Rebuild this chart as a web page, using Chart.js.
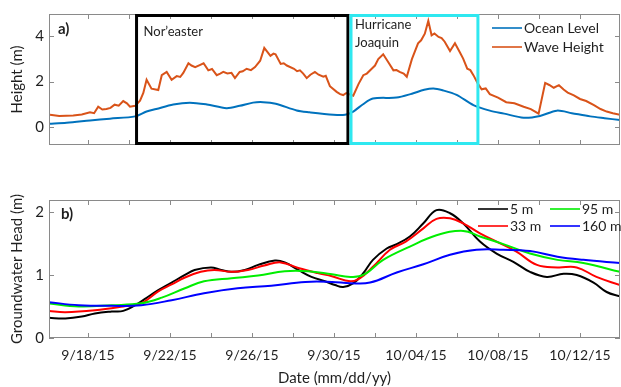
<!DOCTYPE html>
<html>
<head>
<meta charset="utf-8">
<script src="https://cdn.jsdelivr.net/npm/chart.js@4.4.1/dist/chart.umd.min.js"></script>
<style>
    html, body { margin: 0; padding: 0; background: #fff; }
    #wrap { position: relative; width: 621px; height: 387px; }
    #top { position: absolute; left: 0; top: 0; }
    #bottom { position: absolute; left: 0; top: 180px; }
</style>
</head>
<body>
<div id="wrap">
    <canvas id="top" width="621" height="160" style="width:621px;height:160px"></canvas>
    <canvas id="bottom" width="621" height="207" style="width:621px;height:207px"></canvas>
</div>
<script>
// days counted from 1 Sept 2015 (Oct 1 = 31)
const tickDays = [18, 20, 22, 24, 26, 28, 30, 32, 34, 36, 38, 40, 42];
const labelDays = [18, 22, 26, 30, 34, 38, 42];
const labelText = ["9/18/15", "9/22/15", "9/26/15", "9/30/15", "10/04/15", "10/08/15", "10/12/15"];

// panel a) ocean level
const oceanDays = [16.1, 16.96, 18.1, 19.07, 20.3, 20.86, 21.33, 22.16, 22.97, 23.8, 24.76, 25.4, 26.05, 26.55, 27.16, 28.18, 28.8, 29.97, 30.54, 30.94, 31.4, 31.9, 33.05, 33.8, 34.4, 34.85, 35.3, 35.98, 36.8, 37.6, 38.3, 39.25, 40.05, 40.87, 41.6, 42.5, 43.2, 43.95];
const oceanLevel = [0.16, 0.2, 0.3, 0.38, 0.48, 0.69, 0.8, 1.0, 1.08, 1.0, 0.84, 0.94, 1.08, 1.1, 1.03, 0.74, 0.66, 0.55, 0.55, 0.69, 1.0, 1.26, 1.3, 1.47, 1.64, 1.7, 1.62, 1.42, 0.97, 0.73, 0.6, 0.42, 0.5, 0.73, 0.62, 0.48, 0.4, 0.32];

// panel a) wave height
const waveDays = [16.15, 16.6, 17.28, 17.7, 18.1, 18.3, 18.5, 18.7, 18.9, 19.1, 19.3, 19.5, 19.72, 19.9, 20.05, 20.3, 20.54, 20.7, 20.86, 21.1, 21.43, 21.6, 21.84, 22.08, 22.33, 22.5, 22.65, 22.9, 23.05, 23.23, 23.45, 23.64, 23.87, 24.05, 24.28, 24.45, 24.6, 24.8, 25.0, 25.17, 25.4, 25.55, 25.74, 25.95, 26.15, 26.4, 26.6, 26.75, 26.9, 27.05, 27.15, 27.4, 27.55, 27.7, 28.05, 28.2, 28.34, 28.5, 28.67, 28.85, 29.07, 29.25, 29.48, 29.6, 29.8, 30.13, 30.3, 30.45, 30.6, 30.94, 31.2, 31.43, 31.6, 31.84, 32.0, 32.16, 32.4, 32.65, 32.9, 33.05, 33.2, 33.4, 33.55, 33.8, 34.1, 34.25, 34.43, 34.6, 34.76, 34.9, 35.1, 35.25, 35.4, 35.66, 35.9, 36.15, 36.3, 36.5, 36.65, 36.8, 37.0, 37.2, 37.4, 37.6, 38.0, 38.4, 38.8, 39.25, 39.6, 39.98, 40.3, 40.5, 40.72, 40.97, 41.2, 41.4, 41.7, 42.0, 42.3, 42.68, 43.0, 43.3, 43.6, 43.95];
const waveHeight = [0.55, 0.5, 0.52, 0.56, 0.66, 0.62, 0.9, 0.78, 0.8, 0.85, 0.99, 0.95, 1.15, 1.05, 0.9, 0.94, 1.17, 1.5, 2.08, 1.69, 1.63, 2.28, 2.42, 2.08, 2.24, 2.2, 2.38, 2.8, 2.7, 2.63, 2.72, 2.8, 2.49, 2.55, 2.28, 2.35, 2.42, 2.35, 2.38, 2.15, 2.42, 2.45, 2.56, 2.5, 2.63, 2.91, 3.47, 3.3, 3.12, 3.22, 3.19, 2.77, 2.8, 2.7, 2.56, 2.45, 2.49, 2.35, 2.15, 2.3, 2.42, 2.3, 2.21, 2.25, 1.8, 1.55, 1.45, 1.41, 1.5, 1.38, 1.9, 2.28, 2.35, 2.56, 2.7, 2.98, 3.19, 2.84, 2.49, 2.5, 2.42, 2.35, 2.21, 2.98, 3.67, 3.8, 4.09, 4.65, 4.02, 4.1, 3.95, 3.9, 3.74, 3.33, 3.67, 3.26, 3.0, 2.56, 2.5, 2.28, 1.94, 1.66, 1.7, 1.45, 1.3, 1.1, 1.05, 0.9, 0.8, 0.6, 1.94, 1.85, 1.73, 1.84, 1.65, 1.52, 1.4, 1.24, 1.15, 0.97, 0.8, 0.69, 0.62, 0.55];

// storm windows (day start, day end)
const stormNames = ["Nor\u2019easter", "Hurricane Joaquin"];
const stormStart = [20.37, 30.83];
const stormEnd = [30.68, 37.02];

// panel b) groundwater head at distance from shore
const gwDays5 = [16.06, 16.9, 17.7, 18.34, 19.16, 19.72, 20.3, 20.78, 21.43, 22.08, 22.73, 23.2, 24.0, 24.5, 25.0, 25.65, 26.3, 27.12, 27.6, 28.26, 28.9, 29.56, 30.05, 30.45, 30.95, 31.43, 31.9, 32.57, 33.06, 33.7, 34.36, 35.0, 35.66, 36.3, 37.12, 37.93, 38.75, 39.56, 40.38, 41.2, 41.84, 42.66, 43.3, 43.95];
const gw5 = [0.32, 0.31, 0.34, 0.39, 0.42, 0.43, 0.52, 0.62, 0.76, 0.88, 1.0, 1.08, 1.12, 1.08, 1.05, 1.08, 1.16, 1.23, 1.2, 1.08, 0.97, 0.9, 0.84, 0.81, 0.87, 1.03, 1.24, 1.42, 1.49, 1.61, 1.82, 2.03, 1.98, 1.82, 1.53, 1.34, 1.21, 1.05, 0.97, 1.02, 1.0, 0.88, 0.73, 0.66];

const gwDays33 = [16.06, 16.9, 18.34, 19.72, 20.6, 21.43, 22.08, 22.73, 23.5, 24.16, 25.0, 25.8, 26.6, 27.4, 28.26, 29.2, 29.9, 30.8, 31.27, 31.9, 32.73, 33.5, 34.36, 35.0, 35.66, 36.3, 37.12, 37.93, 38.9, 39.9, 40.9, 41.84, 42.8, 43.95];
const gw33 = [0.43, 0.41, 0.44, 0.5, 0.55, 0.74, 0.85, 0.96, 1.05, 1.08, 1.05, 1.08, 1.15, 1.2, 1.11, 1.03, 0.98, 0.9, 0.95, 1.13, 1.4, 1.53, 1.74, 1.89, 1.9, 1.82, 1.66, 1.53, 1.37, 1.16, 1.12, 1.12, 0.97, 0.84];

const gwDays95 = [16.06, 17.55, 19.16, 20.6, 21.6, 22.73, 23.66, 25.0, 26.3, 27.6, 28.74, 29.9, 30.8, 31.43, 32.4, 33.7, 35.0, 36.3, 37.12, 38.26, 39.56, 40.9, 42.16, 43.95];
const gw95 = [0.55, 0.5, 0.52, 0.55, 0.64, 0.79, 0.9, 0.95, 0.99, 1.06, 1.06, 1.01, 0.97, 1.0, 1.24, 1.45, 1.63, 1.7, 1.61, 1.49, 1.34, 1.24, 1.19, 1.05];

const gwDays160 = [16.06, 17.55, 19.16, 20.6, 22.08, 23.66, 25.3, 26.94, 28.6, 29.9, 30.8, 31.76, 33.06, 34.36, 35.66, 36.95, 38.26, 39.56, 40.9, 42.16, 43.95];
const gw160 = [0.57, 0.52, 0.51, 0.52, 0.6, 0.71, 0.79, 0.83, 0.89, 0.89, 0.87, 0.88, 1.04, 1.17, 1.32, 1.4, 1.4, 1.38, 1.29, 1.24, 1.19];

const seriesNames = ["5 m", "33 m", "95 m", "160 m"];
const seriesColors = ["#000000", "#ff0000", "#00ee00", "#0000ff"];

const FONT = "Lato";
const TEXT = "#1f1f1f";
const FRAME = "#8a8a8a";

function toPoints(days, vals) {
    return days.map((d, i) => ({ x: d, y: vals[i] }));
}

// MATLAB-like box with inward ticks
const frameTicks = {
    id: "frameTicks",
    afterDatasetsDraw(chart) {
        const { ctx, chartArea: a, scales } = chart;
        ctx.save();
        ctx.strokeStyle = FRAME;
        ctx.lineWidth = 1;
        ctx.strokeRect(a.left + 0.5, a.top + 0.5, a.width - 1, a.height - 1);
        ctx.beginPath();
        scales.x.ticks.forEach(t => {
            const px = Math.round(scales.x.getPixelForValue(t.value)) + 0.5;
            ctx.moveTo(px, a.bottom); ctx.lineTo(px, a.bottom - 5);
            ctx.moveTo(px, a.top); ctx.lineTo(px, a.top + 5);
        });
        scales.y.ticks.forEach(t => {
            const py = Math.round(scales.y.getPixelForValue(t.value)) + 0.5;
            ctx.moveTo(a.left, py); ctx.lineTo(a.left + 5, py);
            ctx.moveTo(a.right, py); ctx.lineTo(a.right - 5, py);
        });
        ctx.stroke();
        ctx.restore();
    }
};

const topDecor = {
    id: "topDecor",
    afterDatasetsDraw(chart) {
        const { ctx, chartArea: a, scales: { x } } = chart;
        ctx.save();
        const boxColors = ["#000000", "#2fe8f0"];
        stormStart.forEach((s, i) => {
            const x1 = x.getPixelForValue(s);
            const x2 = x.getPixelForValue(stormEnd[i]);
            ctx.strokeStyle = boxColors[i];
            ctx.lineWidth = 3;
            ctx.strokeRect(x1, a.top + 1.5, x2 - x1, a.height - 3);
        });
        ctx.fillStyle = TEXT;
        ctx.textBaseline = "middle";
        ctx.font = "bold 15px " + FONT;
        ctx.fillText("a)", a.left + 9, a.top + 15);
        ctx.font = "13px " + FONT;
        ctx.fillText(stormNames[0], x.getPixelForValue(stormStart[0]) + 7, a.top + 18);
        const hx = x.getPixelForValue(stormStart[1]) + 4;
        const words = stormNames[1].split(" ");
        ctx.fillText(words[0], hx, a.top + 11);
        ctx.fillText(words[1], hx, a.top + 29);
        // legend
        ctx.font = "14px " + FONT;
        chart.data.datasets.forEach((ds, i) => {
            const ly = a.top + 14 + i * 19;
            ctx.strokeStyle = ds.borderColor;
            ctx.lineWidth = 1.6;
            ctx.beginPath();
            ctx.moveTo(a.right - 128, ly); ctx.lineTo(a.right - 98, ly);
            ctx.stroke();
            ctx.fillText(ds.label, a.right - 96, ly);
        });
        ctx.restore();
    }
};

const bottomDecor = {
    id: "bottomDecor",
    afterDatasetsDraw(chart) {
        const { ctx, chartArea: a } = chart;
        ctx.save();
        ctx.fillStyle = TEXT;
        ctx.textBaseline = "middle";
        ctx.font = "bold 15px " + FONT;
        ctx.fillText("b)", a.left + 12, a.top + 14);
        ctx.font = "14px " + FONT;
        const cols = [a.right - 142, a.right - 70];
        seriesNames.forEach((name, i) => {
            const cx = cols[Math.floor(i / 2)];
            const ly = a.top + 9 + (i % 2) * 17;
            ctx.strokeStyle = seriesColors[i];
            ctx.lineWidth = 1.6;
            ctx.beginPath();
            ctx.moveTo(cx, ly); ctx.lineTo(cx + 30, ly);
            ctx.stroke();
            ctx.fillText(name, cx + 32, ly);
        });
        ctx.restore();
    }
};

function xScale(showLabels, height, withTitle) {
    return {
        type: "linear",
        min: 16.1,
        max: 43.95,
        afterBuildTicks: s => { s.ticks = tickDays.map(v => ({ value: v })); },
        afterFit: s => { s.height = height; },
        grid: { display: false, drawTicks: false },
        border: { display: false },
        ticks: {
            display: showLabels,
            autoSkip: false,
            maxRotation: 0,
            padding: 9,
            color: TEXT,
            font: { family: FONT, size: 14 },
            callback: v => {
                const k = labelDays.indexOf(v);
                return k >= 0 ? labelText[k] : "";
            }
        },
        title: {
            display: withTitle,
            text: "Date (mm/dd/yy)",
            color: TEXT,
            font: { family: FONT, size: 15 },
            padding: { top: 0, bottom: 0 }
        }
    };
}

function yScale(min, max, ticks, title) {
    return {
        min: min,
        max: max,
        afterBuildTicks: s => { s.ticks = ticks.map(v => ({ value: v })); },
        afterFit: s => { s.width = 49; },
        grid: { display: false, drawTicks: false },
        border: { display: false },
        ticks: { padding: 5, color: TEXT, font: { family: FONT, size: 15 } },
        title: {
            display: true,
            text: title,
            color: TEXT,
            font: { family: FONT, size: 15 },
            padding: { top: 8, bottom: 0 }
        }
    };
}

new Chart(document.getElementById("top"), {
    type: "line",
    data: {
        datasets: [
            { label: "Ocean Level", data: toPoints(oceanDays, oceanLevel), borderColor: "#0072bd", borderWidth: 2, tension: 0.3 },
            { label: "Wave Height", data: toPoints(waveDays, waveHeight), borderColor: "#d95319", borderWidth: 2 }
        ]
    },
    options: {
        responsive: false,
        animation: false,
        events: [],
        elements: { point: { radius: 0 } },
        layout: { padding: { top: 8, right: 1, left: 0, bottom: 0 } },
        plugins: { legend: { display: false }, tooltip: { enabled: false } },
        scales: {
            x: xScale(false, 15, false),
            y: yScale(-0.77, 4.95, [0, 2, 4], "Height (m)")
        }
    },
    plugins: [frameTicks, topDecor]
});

new Chart(document.getElementById("bottom"), {
    type: "line",
    data: {
        datasets: [
            { label: seriesNames[0], data: toPoints(gwDays5, gw5), borderColor: seriesColors[0], order: 3 },
            { label: seriesNames[1], data: toPoints(gwDays33, gw33), borderColor: seriesColors[1], order: 2 },
            { label: seriesNames[2], data: toPoints(gwDays95, gw95), borderColor: seriesColors[2], order: 1 },
            { label: seriesNames[3], data: toPoints(gwDays160, gw160), borderColor: seriesColors[3], order: 0 }
        ]
    },
    options: {
        responsive: false,
        animation: false,
        events: [],
        elements: { point: { radius: 0 }, line: { borderWidth: 2, tension: 0.4 } },
        layout: { padding: { top: 20, right: 1, left: 0, bottom: 0 } },
        plugins: { legend: { display: false }, tooltip: { enabled: false } },
        scales: {
            x: xScale(true, 49, true),
            y: yScale(0, 2.19, [0, 1, 2], "Groundwater Head (m)")
        }
    },
    plugins: [frameTicks, bottomDecor]
});
</script>
</body>
</html>
